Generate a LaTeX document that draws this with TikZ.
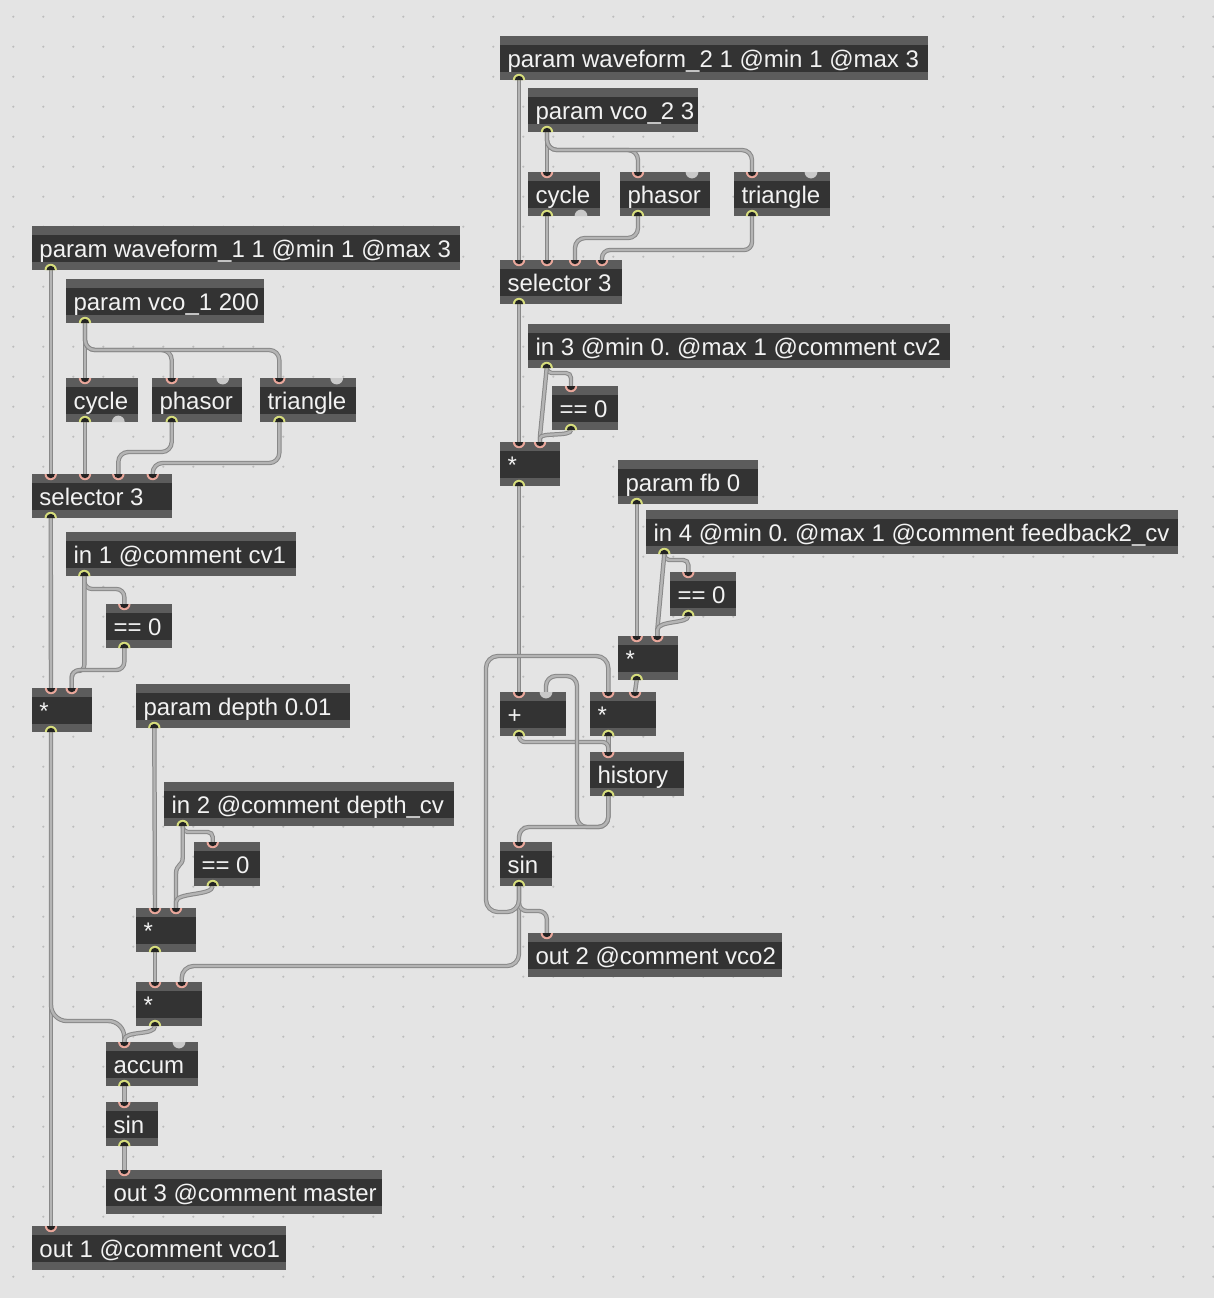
\documentclass[tikz,border=0pt]{standalone}
\usepackage{fontspec}
\setmainfont{Liberation Sans}
\frenchspacing
\definecolor{bgc}{HTML}{E4E4E4}
\definecolor{dotc}{HTML}{BDBDBD}
\definecolor{bandc}{HTML}{5C5C5C}
\definecolor{bodyc}{HTML}{333333}
\definecolor{txtc}{HTML}{F2F2F2}
\definecolor{pinkc}{HTML}{E9A79B}
\definecolor{outc}{HTML}{D6DD7C}
\definecolor{portd}{HTML}{232323}
\definecolor{grayp}{HTML}{C9C9C9}
\definecolor{cordo}{HTML}{888888}
\definecolor{cordi}{HTML}{B4B4B4}
\tikzset{
  gframe/.style={rectangle, fill=bandc, draw=none, minimum height=22pt, inner sep=0pt, outer sep=0pt},
  gtext/.style={inner sep=0pt, outer sep=0pt, text=txtc, font=\fontsize{12}{14}\selectfont},
  cord/.style={draw=cordo, line width=0.5pt, double=cordi, double distance=1.2pt},
}
\newcommand\gbox[5]{%
  \node[gframe, minimum width={(#4-#2)*0.5pt}, anchor=north west] (#1) at (#2,#3) {};
  \fill[bodyc] ([yshift=-4.25pt]#1.north west) rectangle ([yshift=4pt]#1.south east);
  \node[gtext, anchor=base west] (#1t) at (#2+7.5,#3+31) {#5};
}
\newcommand\portin[1]{%
  \fill[pinkc] ([xshift=-3.1pt]#1) arc[start angle=180,end angle=360,radius=3.1pt] -- cycle;
  \fill[portd] ([xshift=-2.1pt]#1) arc[start angle=180,end angle=360,radius=2.1pt] -- cycle;}
\newcommand\portout[1]{%
  \fill[outc] ([xshift=-3.1pt]#1) arc[start angle=180,end angle=0,radius=3.1pt] -- cycle;
  \fill[portd] ([xshift=-2.1pt]#1) arc[start angle=180,end angle=0,radius=2.1pt] -- cycle;}
\newcommand\portgin[1]{%
  \fill[grayp] ([xshift=-3.2pt]#1) arc[start angle=180,end angle=360,radius=3.2pt] -- cycle;}
\newcommand\portgout[1]{%
  \fill[grayp] ([xshift=-3.2pt]#1) arc[start angle=180,end angle=0,radius=3.2pt] -- cycle;}
\begin{document}
\begin{tikzpicture}[x=0.5pt,y=-0.5pt]
\fill[bgc] (0,0) rectangle (1214,1298);
\useasboundingbox (0,0) rectangle (1214,1298);
\foreach \i in {0,...,40} \foreach \j in {0,...,42} \fill[dotc] (13.3+30*\i,16.7+30*\j) circle[radius=0.6pt];
% ---- port coordinates (left) ----
\coordinate (W1o) at (50.7,270);
\coordinate (V1o) at (85,323);
\coordinate (C1i) at (85,378); \coordinate (C1o) at (85,422); \coordinate (C1o2) at (118.3,422);
\coordinate (Ph1i) at (171.7,378); \coordinate (Ph1i2) at (222.7,378); \coordinate (Ph1o) at (171.7,422);
\coordinate (T1i) at (279.3,378); \coordinate (T1i2) at (336.7,378); \coordinate (T1o) at (279.3,422);
\coordinate (S1i1) at (50.7,474); \coordinate (S1i2) at (85,474); \coordinate (S1i3) at (118.3,474); \coordinate (S1i4) at (152.7,474); \coordinate (S1o) at (50.7,518);
\coordinate (I1o) at (84.3,576);
\coordinate (E1i) at (124.3,604); \coordinate (E1o) at (124.3,648);
\coordinate (M1i1) at (51,688); \coordinate (M1i2) at (71.7,688); \coordinate (M1o) at (51,732);
\coordinate (Do) at (154.3,728);
\coordinate (I2o) at (182.7,826);
\coordinate (E2i) at (212.7,842); \coordinate (E2o) at (212.7,886);
\coordinate (M2i1) at (155,908); \coordinate (M2i2) at (176,908); \coordinate (M2o) at (155,952);
\coordinate (M3i1) at (155,982); \coordinate (M3i2) at (181.7,982); \coordinate (M3o) at (155,1026);
\coordinate (Ai) at (124.3,1042); \coordinate (Ai2) at (179,1042); \coordinate (Ao) at (124.3,1086);
\coordinate (SLi) at (124.3,1102); \coordinate (SLo) at (124.3,1146);
\coordinate (O3i) at (124.3,1170);
\coordinate (O1i) at (51,1226);
% ---- port coordinates (right) ----
\coordinate (W2o) at (519,80);
\coordinate (V2o) at (547,132);
\coordinate (C2i) at (547,172); \coordinate (C2o) at (547,216); \coordinate (C2o2) at (581,216);
\coordinate (Ph2i) at (638,172); \coordinate (Ph2i2) at (692,172); \coordinate (Ph2o) at (638,216);
\coordinate (T2i) at (752,172); \coordinate (T2i2) at (811,172); \coordinate (T2o) at (752,216);
\coordinate (S2i1) at (519,260); \coordinate (S2i2) at (547,260); \coordinate (S2i3) at (575,260); \coordinate (S2i4) at (602,260); \coordinate (S2o) at (519,304);
\coordinate (I3o) at (546.7,368);
\coordinate (E3i) at (571,386); \coordinate (E3o) at (571,430);
\coordinate (M4i1) at (519,442); \coordinate (M4i2) at (540,442); \coordinate (M4o) at (519,486);
\coordinate (Fo) at (636.7,504);
\coordinate (I4o) at (664.3,554);
\coordinate (E4i) at (688.3,572); \coordinate (E4o) at (688.3,616);
\coordinate (M5i1) at (636.7,636); \coordinate (M5i2) at (657.3,636); \coordinate (M5o) at (636.7,680);
\coordinate (Pi1) at (519,692); \coordinate (Pi2) at (546,692); \coordinate (Po) at (519,736);
\coordinate (M6i1) at (608.3,692); \coordinate (M6i2) at (635,692); \coordinate (M6o) at (608.3,736);
\coordinate (Hi) at (608.3,752); \coordinate (Ho) at (608.3,796);
\coordinate (SRi) at (519,842); \coordinate (SRo) at (519,886);
\coordinate (O2i) at (546.8,933);
% ---- cords (left) ----
\draw[cord] (W1o) -- (S1i1);
\draw[cord] (V1o) -- (C1i);
\draw[cord, rounded corners=5pt] (V1o) -- (85,350) -- (171.7,350) -- (Ph1i);
\draw[cord, rounded corners=5pt] (V1o) -- (85,350) -- (279.3,350) -- (T1i);
\draw[cord] (C1o) -- (S1i2);
\draw[cord, rounded corners=5pt] (Ph1o) -- (171.7,452) -- (118.3,452) -- (S1i3);
\draw[cord, rounded corners=5pt] (T1o) -- (279.3,463) -- (152.7,463) -- (S1i4);
\draw[cord] (S1o) -- (M1i1);
\draw[cord, rounded corners=4pt] (I1o) -- (84.3,589) -- (124.3,589) -- (E1i);
\draw[cord, rounded corners=3pt] (I1o) -- (84.3,671) -- (71.7,671) -- (M1i2);
\draw[cord, rounded corners=4pt] (E1o) -- (124.3,670) -- (71.7,670) -- (M1i2);
\draw[cord] (M1o) -- (O1i);
\draw[cord, rounded corners=8pt] (M1o) -- (51,1021) -- (124.3,1021) -- (Ai);
\draw[cord] (Do) -- (M2i1);
\draw[cord, rounded corners=2.5pt] (I2o) -- (182.7,832) -- (212.7,832) -- (E2i);
\draw[cord] (I2o) -- (182.7,858) .. controls (182.7,866) and (176,864) .. (176,874) -- (M2i2);
\draw[cord] (E2o) .. controls (212.7,896) and (176,892) .. (176,902) -- (M2i2);
\draw[cord] (M2o) -- (M3i1);
\draw[cord, rounded corners=6pt] (SRo) -- (519,966) -- (181.7,966) -- (M3i2);
\draw[cord] (M3o) .. controls (155,1036) and (124.3,1030) .. (124.3,1040) -- (Ai);
\draw[cord] (Ao) -- (SLi);
\draw[cord] (SLo) -- (O3i);
% ---- cords (right) ----
\draw[cord] (W2o) -- (S2i1);
\draw[cord] (V2o) -- (C2i);
\draw[cord, rounded corners=5pt] (V2o) -- (547,150) -- (638,150) -- (Ph2i);
\draw[cord, rounded corners=5pt] (V2o) -- (547,150) -- (752,150) -- (T2i);
\draw[cord] (C2o) -- (S2i2);
\draw[cord, rounded corners=5pt] (Ph2o) -- (638,238) -- (575,238) -- (S2i3);
\draw[cord, rounded corners=4pt] (T2o) -- (752,250) -- (602,250) -- (S2i4);
\draw[cord] (S2o) -- (M4i1);
\draw[cord, rounded corners=2.5pt] (I3o) -- (546.7,373) -- (571,373) -- (E3i);
\draw[cord] (I3o) -- (540,436) -- (M4i2);
\draw[cord] (E3o) .. controls (571,437) and (541,432) .. (540,438) -- (M4i2);
\draw[cord] (M4o) -- (Pi1);
\draw[cord] (Fo) -- (M5i1);
\draw[cord, rounded corners=2.5pt] (I4o) -- (664.3,560) -- (688.3,560) -- (E4i);
\draw[cord] (I4o) -- (657.3,630) -- (M5i2);
\draw[cord] (E4o) .. controls (688.3,624) and (658,620) .. (657.3,630) -- (M5i2);
\draw[cord] (M5o) -- (M6i2);
\draw[cord] (M6o) -- (Hi);
\draw[cord, rounded corners=3pt] (Po) -- (519,742) -- (608.3,742) -- (Hi);
\draw[cord, rounded corners=5pt] (Ho) -- (608.3,827) -- (577,827) -- (577,676) -- (546,676) -- (Pi2);
\draw[cord, rounded corners=5pt] (Ho) -- (608.3,827) -- (519,827) -- (SRi);
\draw[cord, rounded corners=4pt] (SRo) -- (519,911) -- (546.8,911) -- (O2i);
\draw[cord, rounded corners=6pt] (SRo) -- (519,912) -- (486,912) -- (486,656) -- (608.3,656) -- (M6i1);
% ---- boxes (left) ----
\gbox{W1}{32}{226}{460}{param waveform\_1 1 @min 1 @max 3}
\gbox{V1}{66}{279}{264}{param vco\_1 200}
\gbox{C1}{66}{378}{138}{cycle}
\gbox{Ph1}{152}{378}{242}{phasor}
\gbox{T1}{260}{378}{356}{triangle}
\gbox{S1}{32}{474}{172}{selector 3}
\gbox{I1}{66}{532}{296}{in 1 @comment cv1}
\gbox{E1}{106}{604}{172}{== 0}
\gbox{M1}{32}{688}{92}{*}
\gbox{D}{136}{684}{350}{param depth 0.01}
\gbox{I2}{164}{782}{454}{in 2 @comment depth\_cv}
\gbox{E2}{194}{842}{260}{== 0}
\gbox{M2}{136}{908}{196}{*}
\gbox{M3}{136}{982}{202}{*}
\gbox{A}{106}{1042}{198}{accum}
\gbox{SL}{106}{1102}{158}{sin}
\gbox{O3}{106}{1170}{382}{out 3 @comment master}
\gbox{O1}{32}{1226}{286}{out 1 @comment vco1}
% ---- boxes (right) ----
\gbox{W2}{500}{36}{928}{param waveform\_2 1 @min 1 @max 3}
\gbox{V2}{528}{88}{698}{param vco\_2 3}
\gbox{C2}{528}{172}{600}{cycle}
\gbox{Ph2}{620}{172}{710}{phasor}
\gbox{T2}{734}{172}{830}{triangle}
\gbox{S2}{500}{260}{622}{selector 3}
\gbox{I3}{528}{324}{950}{in 3 @min 0. @max 1 @comment cv2}
\gbox{E3}{552}{386}{618}{== 0}
\gbox{M4}{500}{442}{560}{*}
\gbox{F}{618}{460}{758}{param fb 0}
\gbox{I4}{646}{510}{1178}{in 4 @min 0. @max 1 @comment feedback2\_cv}
\gbox{E4}{670}{572}{736}{== 0}
\gbox{M5}{618}{636}{678}{*}
\gbox{P}{500}{692}{566}{+}
\gbox{M6}{590}{692}{656}{*}
\gbox{H}{590}{752}{684}{history}
\gbox{SR}{500}{842}{552}{sin}
\gbox{O2}{528}{933}{782}{out 2 @comment vco2}
% ---- ports ----
\foreach \p in {C1i,Ph1i,T1i,S1i1,S1i2,S1i3,S1i4,E1i,M1i1,M1i2,E2i,M2i1,M2i2,M3i1,M3i2,Ai,SLi,O3i,O1i,C2i,Ph2i,T2i,S2i1,S2i2,S2i3,S2i4,E3i,M4i1,M4i2,E4i,M5i1,M5i2,Pi1,M6i1,M6i2,Hi,SRi,O2i} {\portin{\p}}
\foreach \p in {W1o,V1o,C1o,Ph1o,T1o,S1o,I1o,E1o,M1o,Do,I2o,E2o,M2o,M3o,Ao,SLo,W2o,V2o,C2o,Ph2o,T2o,S2o,I3o,E3o,M4o,Fo,I4o,E4o,M5o,M6o,Po,Ho,SRo} {\portout{\p}}
\foreach \p in {Ph1i2,T1i2,Ai2,Ph2i2,T2i2,Pi2} {\portgin{\p}}
\foreach \p in {C1o2,C2o2} {\portgout{\p}}
\end{tikzpicture}
\end{document}
